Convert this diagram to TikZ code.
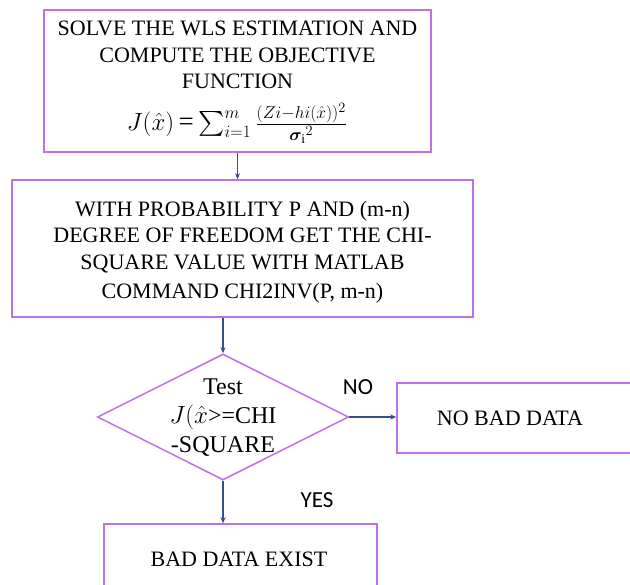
\documentclass[tikz,border=0pt]{standalone}
\usepackage{fontspec}
\usepackage{amsmath,bm}
\setmainfont{Liberation Serif}
\newfontfamily\yesnofont{Carlito}
\usetikzlibrary{shapes.geometric,arrows.meta}
\definecolor{boxpurple}{RGB}{190,112,232}
\definecolor{arrowblue}{RGB}{47,82,143}
\tikzset{
  box/.style={draw=boxpurple,line width=1.5pt,rectangle,inner sep=0pt,align=center},
  btext/.style={align=center,inner sep=0pt,font=\fontsize{22}{26.5}\selectfont},
  arr/.style={draw=arrowblue,line width=1.2pt,-{Stealth[length=6pt,width=5pt]}},
  yn/.style={font=\yesnofont\fontsize{23}{26}\selectfont,inner sep=0pt},
  dtext/.style={align=center,inner sep=0pt,font=\fontsize{24}{29}\selectfont}
}
\begin{document}
\begin{tikzpicture}[x=1pt,y=-1pt]
\clip (0,0) rectangle (630,585);
\fill[white] (0,0) rectangle (630,585);
\node[box,minimum width=387pt,minimum height=142pt] (box1) at (237.5,81) {};
\node[btext] (t1) at (237.5,55)
  {SOLVE THE WLS ESTIMATION AND\\COMPUTE THE OBJECTIVE\\FUNCTION};
\node[inner sep=0pt,font=\fontsize{27}{30}\selectfont] (f1) at (237,123)
  {$J(\hat{x})$\,=\,$\sum_{i=1}^{m}\frac{(Zi-hi(\hat{x}))^2}{\bm{\sigma}_{\mathrm{i}}{}^{2}}$};
\node[box,minimum width=461pt,minimum height=137pt] (box2) at (242.5,248.5) {};
\node[btext] (t2) at (242.5,252)
  {WITH PROBABILITY P AND (m-n)\\DEGREE OF FREEDOM GET THE CHI-\\SQUARE VALUE WITH MATLAB\\[3pt]COMMAND CHI2INV(P, m-n)};
\node[draw=boxpurple,line width=1.5pt,diamond,minimum width=251pt,minimum height=126pt,inner sep=0pt] (diam) at (223,417) {};
\node[dtext] (dt) at (223,418) {Test\\$J(\hat{x}$>=CHI\\-SQUARE};
\node[box,minimum width=250pt,minimum height=70pt] (nobd) at (522,418) {};
\node[btext] (nobdt) at (510,418) {NO BAD DATA};
\node[box,minimum width=273pt,minimum height=70pt] (bde) at (240.5,559) {};
\node[btext] (bdet) at (239,559) {BAD DATA EXIST};
\node[yn] (no) at (358,387) {NO};
\node[yn] (yes) at (317,500) {YES};
\draw[arr] (box1.south) -- (box1.south |- box2.north);
\draw[arr] (box2.south -| diam.north) -- (diam.north);
\draw[arr] (diam.east) -- (diam.east -| nobd.west);
\draw[arr] (diam.south) -- (diam.south |- bde.north);
\end{tikzpicture}
\end{document}
